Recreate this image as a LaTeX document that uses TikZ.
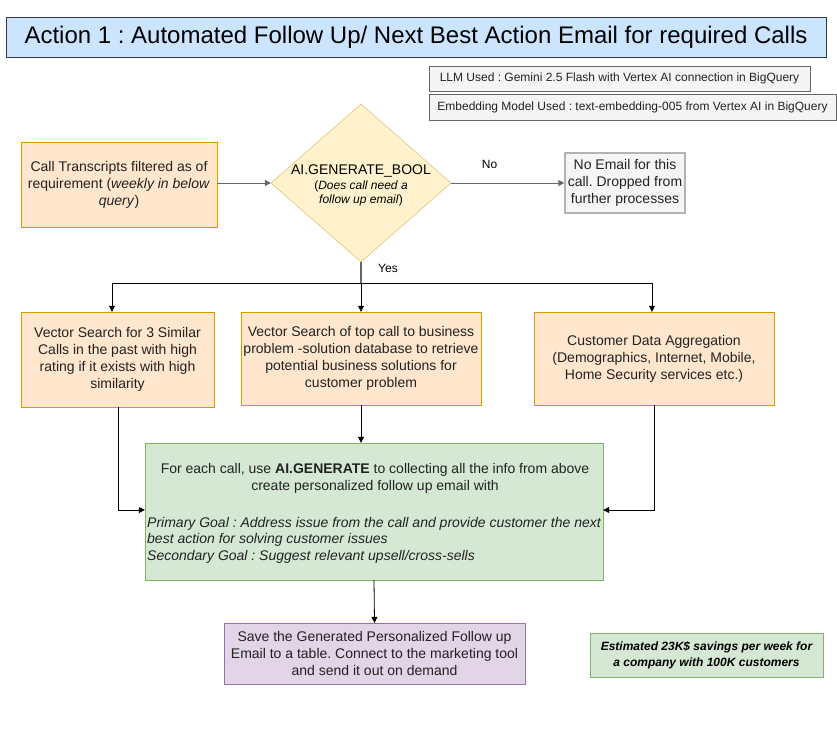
\documentclass[tikz,border=0pt]{standalone}
\usepackage{fontspec}
\setmainfont{Liberation Sans}
\usetikzlibrary{shapes.geometric,arrows.meta}
\definecolor{titlefill}{HTML}{CCE5FF}
\definecolor{titledraw}{HTML}{36393D}
\definecolor{orfill}{HTML}{FFE6CC}
\definecolor{ordraw}{HTML}{D79B00}
\definecolor{yefill}{HTML}{FFF2CC}
\definecolor{yedraw}{HTML}{D6B656}
\definecolor{grfill}{HTML}{F5F5F5}
\definecolor{grdraw}{HTML}{666666}
\definecolor{grdraw2}{HTML}{B3B3B3}
\definecolor{gnfill}{HTML}{D5E8D4}
\definecolor{gndraw}{HTML}{82B366}
\definecolor{pufill}{HTML}{E1D5E7}
\definecolor{pudraw}{HTML}{9673A6}
\definecolor{txt}{HTML}{222222}
\tikzset{
  base/.style={draw, rectangle, inner sep=2pt, align=center, text=txt, font=\fontsize{14}{17}\selectfont},
  orbox/.style={base, fill=orfill, draw=ordraw},
  note/.style={base, fill=grfill, draw=grdraw, font=\fontsize{12}{14}\selectfont},
  arr/.style={-{Triangle[length=6pt,width=6pt]}, draw=black, line width=0.8pt},
  garr/.style={-{Triangle[length=6pt,width=6pt]}, draw=grdraw, line width=1pt},
  lbl/.style={text=black, font=\fontsize{12}{14}\selectfont, inner sep=0pt},
}
\begin{document}
\frenchspacing
\begin{tikzpicture}[x=1pt,y=-1pt]
\useasboundingbox (0,0) rectangle (837,734);
\fill[white] (0,0) rectangle (837,734);

\node[base, fill=titlefill, draw=titledraw, minimum width=820, minimum height=40, font=\fontsize{24}{28}\selectfont, text=black] (title) at (416,37) {Action 1 : Automated Follow Up/ Next Best Action Email for required Calls};

\node[note, minimum width=381, minimum height=25] (llm) at (619.5,78.5) {LLM Used : Gemini 2.5 Flash with Vertex AI connection in BigQuery};
\node[note, minimum width=407, minimum height=26] (emb) at (632.5,107) {Embedding Model Used : text-embedding-005 from Vertex AI in BigQuery};

\node[orbox, minimum width=196, minimum height=85] (trans) at (119,184.5) {Call Transcripts filtered as of\\requirement (\textit{weekly in below}\\\textit{query})};

\node[draw=yedraw, fill=yefill, diamond, minimum width=180, minimum height=158, inner sep=0pt, aspect=1.14, align=center, text=black] (dia) at (361,183) {};
\node[align=center, inner sep=0pt, text=black, font=\fontsize{12}{14}\selectfont] (diat) at (361,185) {{\fontsize{14}{15}\selectfont AI.GENERATE\_BOOL}\\[1pt](\textit{Does call need a}\\\textit{follow up email})};

\node[base, fill=grfill, draw=grdraw2, line width=1.5pt, minimum width=120, minimum height=60, inner sep=1pt] (noemail) at (625,183) {No Email for this\\call. Dropped from\\further processes};

\node[orbox, minimum width=193, minimum height=95] (vs1) at (117.5,359.5) {Vector Search for 3 Similar\\Calls in the past with high\\rating if it exists with high\\similarity};
\node[orbox, minimum width=240, minimum height=93] (vs2) at (361,358.5) {Vector Search of top call to business\\problem -solution database to retrieve\\potential business solutions for\\customer problem};
\node[orbox, minimum width=240, minimum height=93] (cda) at (654,358.5) {Customer Data Aggregation\\(Demographics, Internet, Mobile,\\Home Security services etc.)};

\node[base, fill=gnfill, draw=gndraw, minimum width=458, minimum height=137] (gen) at (374,511.5) {};
\node[align=center, inner sep=0pt, text=txt, font=\fontsize{14}{17}\selectfont, anchor=north] (gent1) at (375,463) {For each call, use \textbf{AI.GENERATE} to collecting all the info from above\\create personalized follow up email with};
\node[align=left, inner sep=0pt, text=txt, font=\fontsize{14}{16.5}\selectfont\itshape, anchor=north west] (gent2) at (147,517) {Primary Goal : Address issue from the call and provide customer the next\\best action for solving customer issues\\Secondary Goal : Suggest relevant upsell/cross-sells};

\node[base, fill=pufill, draw=pudraw, minimum width=301, minimum height=61] (save) at (374.5,653.5) {Save the Generated Personalized Follow up\\Email to a table. Connect to the marketing tool\\and send it out on demand};

\node[base, fill=gnfill, draw=gndraw, minimum width=233, minimum height=44, font=\fontsize{12}{16}\selectfont\bfseries\itshape, text=black] (est) at (706.5,655) {Estimated 23K\$ savings per week for\\a company with 100K customers};

% connectors
\draw[garr] (trans.east |- dia.west) -- (dia.west);
\draw[garr] (dia.east) -- node[lbl, pos=0.34, yshift=19pt] (nolbl) {No} (noemail.west);
\coordinate (j) at (361,283);
\draw[draw=grdraw, line width=2.5pt] (dia.south) -- (j);
\node[lbl, anchor=west] (yeslbl) at (378,268) {Yes};
\draw[arr] (j) -| ([xshift=-5.5pt]vs1.north);
\draw[arr] (j) -- (vs2.north);
\draw[arr] (j) -| ([xshift=-2pt]cda.north);
\draw[arr] ([xshift=0.5pt]vs1.south) |- ([yshift=1.5pt]gen.west);
\draw[arr] (vs2.south) -- (vs2.south |- gen.north);
\draw[arr] (cda.south) |- ([yshift=1.5pt]gen.east);
\draw[arr] (gen.south) -- (save.north);
\end{tikzpicture}
\end{document}
